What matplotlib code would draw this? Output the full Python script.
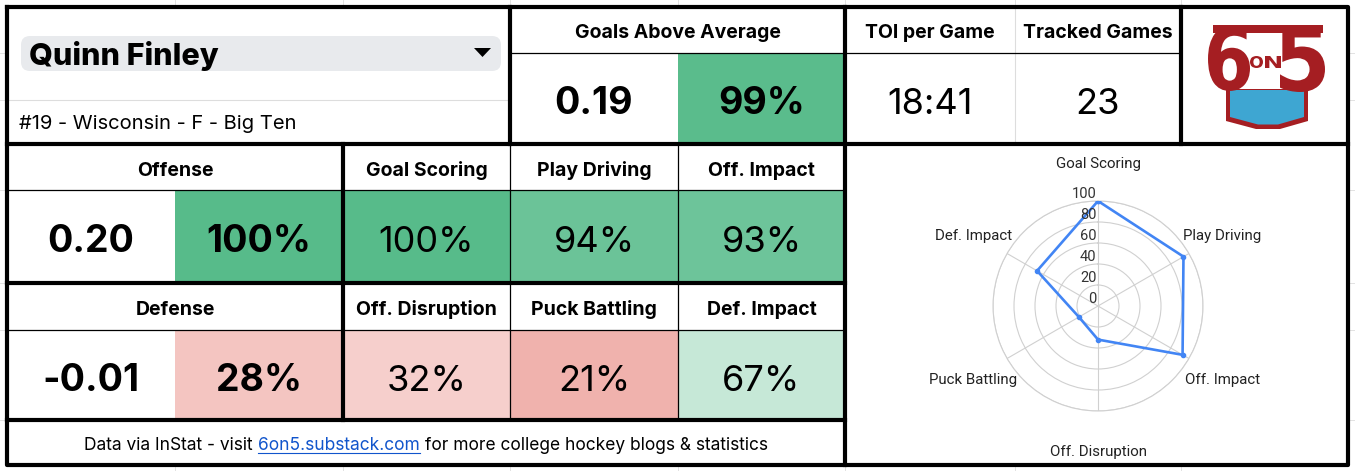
import matplotlib

matplotlib.use("Agg")
import matplotlib.pyplot as plt
import numpy as np
from matplotlib.colors import LinearSegmentedColormap
from matplotlib.font_manager import FontProperties
from matplotlib.patches import FancyBboxPatch, PathPatch, Polygon, Rectangle
from matplotlib.textpath import TextPath
from matplotlib.transforms import Affine2D

PLAYER = "Quinn Finley"
SUBTITLE = "#19 - Wisconsin - F - Big Ten"
GAA_VALUE = 0.19
GAA_PCT = 99
TOI = "18:41"
GAMES = 23
OFFENSE_VALUE = 0.20
OFFENSE_PCT = 100
DEFENSE_VALUE = -0.01
DEFENSE_PCT = 28
OFF_LABELS = ["Goal Scoring", "Play Driving", "Off. Impact"]
OFF_PCTS = [100, 94, 93]
DEF_LABELS = ["Off. Disruption", "Puck Battling", "Def. Impact"]
DEF_PCTS = [32, 21, 67]
RADAR_TICKS = [0, 20, 40, 60, 80, 100]
FOOTER = ["Data via InStat - visit", "6on5.substack.com", "for more college hockey blogs & statistics"]

W, H = 1355, 471
RED, BLUE = "#a51e22", "#3ea6d2"
# Google Sheets style percentile scale: red -> white -> green
SCALE = LinearSegmentedColormap.from_list("sheets", ["#e67c73", "#ffffff", "#57bb8a"])

plt.rcParams["font.family"] = ["Inter", "DejaVu Sans"]
RADAR_FONT = ["Roboto", "DejaVu Sans"]
HEAD = 14      # header font size
BIG = 27       # big bold numbers
NUM = 26       # regular numbers

# column / row edges in pixels
X = [7, 175, 343, 510, 678, 845, 1015, 1181, 1348]
Y_TOP = [7, 53, 144]
Y_LOW = [144, 190, 283, 330, 420, 465]

fig = plt.figure(figsize=(W / 100, H / 100), dpi=100)
ax = fig.add_axes([0, 0, 1, 1])
ax.set_xlim(0, W)
ax.set_ylim(H, 0)
ax.axis("off")


def cell(x0, x1, y0, y1, color):
    ax.add_patch(Rectangle((x0, y0), x1 - x0, y1 - y0, fc=color, ec="none", zorder=0))


def line(xs, ys, lw=0.9, color="black"):
    ax.plot(xs, ys, color=color, lw=lw, solid_capstyle="projecting", zorder=3)


def mid(a, b):
    return (a + b) / 2


def header(x, y0, y1, s):
    ax.text(x, mid(y0, y1) + 8.5, s, fontsize=HEAD, fontweight="bold", ha="center", va="baseline")


def number(x, y0, y1, s, bold):
    ax.text(x, mid(y0, y1) + 16, s, fontsize=BIG if bold else NUM,
            fontweight="bold" if bold else "normal", ha="center", va="baseline")


def pct_color(p):
    return SCALE(p / 100)


# faint spreadsheet gridlines in the margins
for x in X[1:-1]:
    line([x, x], [0, 6], lw=0.7, color="#e2e2e2")
    line([x, x], [466, H], lw=0.7, color="#e2e2e2")
for y in [53, 100, 190, 283, 330, 420]:
    line([0, 6], [y, y], lw=0.7, color="#e2e2e2")
    line([1349, W], [y, y], lw=0.7, color="#e2e2e2")

# ---- top block --------------------------------------------------------------
ax.add_patch(FancyBboxPatch((21, 36), 480, 35, boxstyle="round,pad=0,rounding_size=9",
                            fc="#e8eaed", ec="none", zorder=1))
ax.text(29, 65, PLAYER, fontsize=22, fontweight="heavy", ha="left", va="baseline", zorder=2)
ax.add_patch(Polygon([(474, 48), (491, 48), (482.5, 57)], closed=True, fc="black", ec="none", zorder=2))
line([X[0], X[3]], [100, 100], lw=0.8, color="#dddddd")
ax.text(19, 129, SUBTITLE, fontsize=14.5, ha="left", va="baseline")

header(mid(X[3], X[5]), Y_TOP[0], Y_TOP[1], "Goals Above Average")
cell(X[4], X[5], Y_TOP[1], Y_TOP[2], pct_color(GAA_PCT))
number(mid(X[3], X[4]), Y_TOP[1], Y_TOP[2], f"{GAA_VALUE:.2f}", True)
number(mid(X[4], X[5]), Y_TOP[1], Y_TOP[2], f"{GAA_PCT}%", True)

header(mid(X[5], X[6]), Y_TOP[0], Y_TOP[1], "TOI per Game")
header(mid(X[6], X[7]), Y_TOP[0], Y_TOP[1], "Tracked Games")
number(mid(X[5], X[6]), Y_TOP[1], Y_TOP[2], TOI, False)
number(mid(X[6], X[7]), Y_TOP[1], Y_TOP[2], str(GAMES), False)
line([X[6], X[6]], [Y_TOP[0], Y_TOP[2]], lw=0.8, color="#dddddd")
line([X[3], X[7]], [Y_TOP[1], Y_TOP[1]])

# ---- offense / defense rows -------------------------------------------------
rows = [
    ("Offense", OFFENSE_VALUE, OFFENSE_PCT, OFF_LABELS, OFF_PCTS, Y_LOW[0], Y_LOW[1], Y_LOW[2]),
    ("Defense", DEFENSE_VALUE, DEFENSE_PCT, DEF_LABELS, DEF_PCTS, Y_LOW[2], Y_LOW[3], Y_LOW[4]),
]
for title, value, pct, labels, pcts, y0, yh, yv in rows:
    header(mid(X[0], X[2]), y0, yh, title)
    cell(X[1], X[2], yh, yv, pct_color(pct))
    number(mid(X[0], X[1]), yh, yv, f"{value:.2f}", True)
    number(mid(X[1], X[2]), yh, yv, f"{pct}%", True)
    for i, (lab, p) in enumerate(zip(labels, pcts)):
        xa, xb = X[2 + i], X[3 + i]
        header(mid(xa, xb), y0, yh, lab)
        cell(xa, xb, yh, yv, pct_color(p))
        number(mid(xa, xb), yh, yv, f"{p}%", False)
    line([X[0], X[5]], [yh, yh])
    line([X[3], X[3]], [y0, yv])
    line([X[4], X[4]], [y0, yv])

# footer with the link in blue
r = fig.canvas.get_renderer()
FS = 12.5
colors = ["black", "#1155cc", "black"]
texts = [ax.text(0, 450, s, fontsize=FS, color=c, ha="left", va="baseline") for s, c in zip(FOOTER, colors)]
probe = [ax.text(0, 0, s, fontsize=FS) for s in ("a a", "aa")]
gap = probe[0].get_window_extent(r).width - probe[1].get_window_extent(r).width
for p in probe:
    p.remove()
widths = [t.get_window_extent(r).width for t in texts]
x = mid(X[0], X[5]) - (sum(widths) + 2 * gap) / 2
for t, w in zip(texts, widths):
    t.set_x(x)
    if t is texts[1]:
        line([x, x + w], [453, 453], lw=0.8, color="#1155cc")
    x += w + gap

# ---- thick borders -----------------------------------------------------------
TH = 3
line([X[0], X[8], X[8], X[0], X[0]], [7, 7, 465, 465, 7], lw=TH)
line([X[0], X[8]], [144, 144], lw=TH)
line([X[0], X[5]], [283, 283], lw=TH)
line([X[0], X[5]], [420, 420], lw=TH)
line([X[3], X[3]], [7, 144], lw=TH)
line([X[2], X[2]], [144, 420], lw=TH)
line([X[5], X[5]], [7, 465], lw=TH)
line([X[7], X[7]], [7, 144], lw=TH)


# ---- 6on5 logo ---------------------------------------------------------------
def glyph(s, box, prop):
    x0, y0, x1, y1 = box
    tp = TextPath((0, 0), s, size=100, prop=prop)
    bb = tp.get_extents()
    tr = (Affine2D().translate(-bb.x0, -bb.y0)
          .scale((x1 - x0) / bb.width, -(y1 - y0) / bb.height).translate(x0, y1))
    ax.add_patch(PathPatch(tr.transform_path(tp), fc=RED, ec="none", zorder=2))


logo_font = FontProperties(family="DejaVu Sans", weight="bold")
ax.add_patch(Polygon([(1226, 89), (1226, 121), (1256, 129), (1280, 129), (1308, 121), (1308, 89)],
                     closed=True, fc=RED, ec="none", zorder=1))
ax.add_patch(Polygon([(1230, 90), (1230, 117), (1258, 124.5), (1278, 124.5), (1304, 117), (1304, 90)],
                     closed=True, fc=BLUE, ec="none", zorder=1))
ax.add_patch(Rectangle((1213, 25), 110, 8, fc=RED, ec="none", zorder=2))
glyph("6", (1208, 25, 1250, 91), logo_font)
glyph("5", (1280, 25, 1325, 92), logo_font)
glyph("O", (1250, 56, 1263, 68), logo_font)
glyph("N", (1265, 56, 1281, 68), logo_font)

# ---- radar ------------------------------------------------------------------
cx, cy, R = 1098, 306, 105
rax = fig.add_axes([(cx - R) / W, 1 - (cy + R) / H, 2 * R / W, 2 * R / H], projection="polar")
rax.patch.set_alpha(0)
rax.set_theta_zero_location("N")
rax.set_theta_direction(-1)
labels = OFF_LABELS + DEF_LABELS
values = OFF_PCTS + DEF_PCTS
ang = np.arange(len(labels)) * 2 * np.pi / len(labels)
rax.plot(np.append(ang, ang[0]), values + values[:1], color="#4285f4", lw=1.9,
         marker="o", ms=3, zorder=4)
rax.set_ylim(0, 100)
rax.set_yticks(RADAR_TICKS[1:])
rax.set_yticklabels([])
rax.set_xticks(ang)
rax.set_xticklabels([])
rax.grid(color="#d0d0d0", lw=0.8)
rax.spines["polar"].set_color("#d0d0d0")
rax.spines["polar"].set_linewidth(0.8)
for t in RADAR_TICKS:
    rax.annotate(str(t), xy=(0, t), xytext=(-1, 0), textcoords="offset points", ha="right",
                 va="bottom", fontsize=10.5, color="#333333", family=RADAR_FONT, zorder=5)
for a, lab in zip(ang, labels):
    rax.annotate(lab, xy=(a, 137), xytext=(0, -1.5), textcoords="offset points", ha="center",
                 va="center", fontsize=10.8, color="#222222", family=RADAR_FONT,
                 annotation_clip=False)

fig.savefig("out.png", dpi=100)
